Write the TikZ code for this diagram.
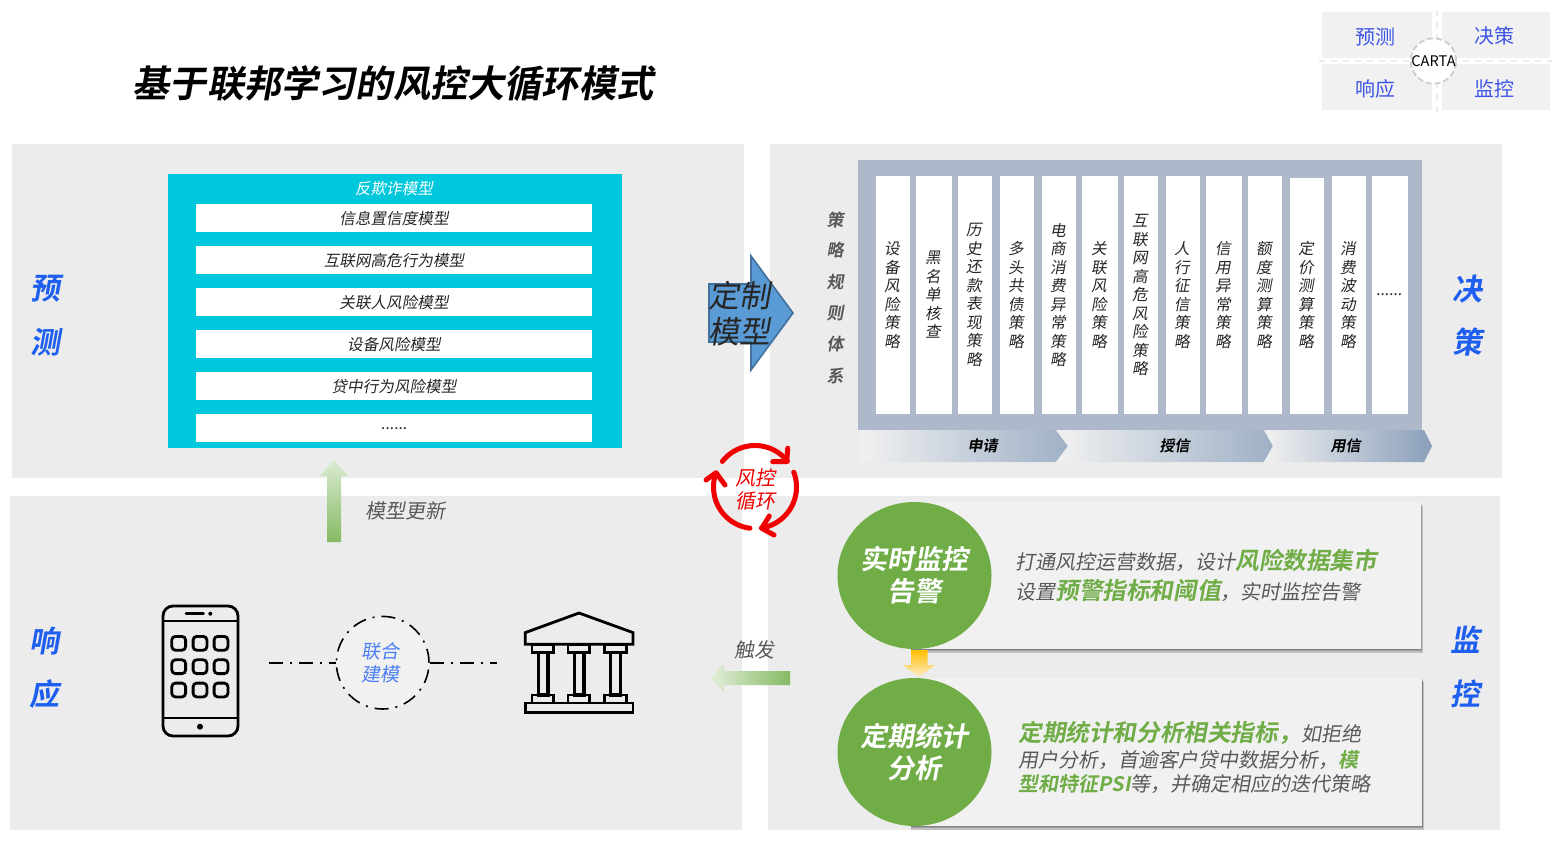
\documentclass[tikz,border=0pt]{standalone}
\usepackage{fontspec}
\setmainfont{Noto Sans CJK SC}
\newfontfamily\reg{Noto Sans CJK SC}
\newfontfamily\itf[FakeSlant=0.18]{Noto Sans CJK SC}
\newfontfamily\bif[FakeSlant=0.18]{Noto Sans CJK SC Bold}
\usetikzlibrary{arrows.meta,shapes.geometric}
\definecolor{panelbg}{HTML}{ECECEC}
\definecolor{cardbg}{HTML}{F1F1F1}
\definecolor{cyanbox}{HTML}{00C8DC}
\definecolor{steel}{HTML}{ADB9CA}
\definecolor{chevend}{HTML}{9FB0C6}
\definecolor{chevlast}{HTML}{8A9FBA}
\definecolor{mainblue}{HTML}{1F5FF0}
\definecolor{softblue}{HTML}{3F55E8}
\definecolor{leafgreen}{HTML}{70AD47}
\definecolor{greytext}{HTML}{595959}
\definecolor{loopred}{HTML}{F00000}
\definecolor{bigarrow}{HTML}{5B9BD5}
\definecolor{bigedge}{HTML}{41719C}
\definecolor{ambertop}{HTML}{FFC000}
\definecolor{amberlow}{HTML}{FBEBC8}
\tikzset{
  x=0.5pt,y=-0.5pt,
  panel/.style={fill=panelbg,draw=none},
  sidelabel/.style={font=\bif\fontsize{15}{15}\selectfont,text=mainblue,inner sep=0pt},
  cartacell/.style={font=\reg\fontsize{10}{10}\selectfont,text=softblue,inner sep=0pt},
  rowtxt/.style={font=\itf\fontsize{7.8}{8}\selectfont,text=black!85,inner sep=0pt},
  coltxt/.style={font=\itf\fontsize{7.8}{9.25}\selectfont,text=black!85,inner sep=0pt,align=center},
  chevtxt/.style={font=\bif\fontsize{7.5}{7.5}\selectfont,text=black,inner sep=0pt},
  systxt/.style={font=\bif\fontsize{8.5}{8.5}\selectfont,text=greytext,inner sep=0pt},
  notetxt/.style={font=\itf\fontsize{10}{10}\selectfont,text=greytext,inner sep=0pt},
  circtxt/.style={font=\bif\fontsize{13.5}{16}\selectfont,text=white,inner sep=0pt,align=center},
  cardline/.style={font=\itf\fontsize{10}{10}\selectfont,text=greytext,inner sep=0pt,anchor=west},
  icon/.style={line width=1.4pt,draw=black,line join=miter},
  looparc/.style={draw=loopred,line width=2.5pt,line cap=round,line join=round},
  dashdot/.style={draw=black,line width=0.8pt,dash pattern=on 7pt off 3.5pt on 1pt off 3.5pt},
  softshadow/.style={fill=black,opacity=0.18},
}
\newcommand{\gb}[1]{{\bif\fontsize{11.8}{11.8}\selectfont\color{leafgreen}#1}}
\newcommand{\gs}[1]{{\bif\fontsize{10}{10}\selectfont\color{leafgreen}#1}}
\newcommand{\sixdots}{{.}{.}{.}{.}{.}{.}}
\begin{document}
\begin{tikzpicture}
\useasboundingbox (0,0) rectangle (1558,852);
\fill[white] (0,0) rectangle (1558,852);
% title
\node[font=\bif\fontsize{18.6}{18.6}\selectfont,inner sep=0pt] (title) at (393,83) {基于联邦学习的风控大循环模式};
% CARTA
\fill[cardbg] (1322,12) rectangle (1432,58);
\fill[cardbg] (1442,12) rectangle (1550,58);
\fill[cardbg] (1322,64) rectangle (1432,110);
\fill[cardbg] (1442,64) rectangle (1550,110);
\draw[panelbg,line width=1pt,dashed] (1437,10) -- (1437,113);
\draw[panelbg,line width=1pt,dashed] (1319,61) -- (1552,61);
\node[cartacell] (cp) at (1375,36.5) {预测};
\node[cartacell] (cd) at (1494,36) {决策};
\node[cartacell] (cr) at (1375,88.5) {响应};
\node[cartacell] (cm) at (1494,88.5) {监控};
\node[circle,draw=black!20,fill=white,dash pattern=on 3pt off 1.5pt,line width=0.9pt,minimum size=22pt,inner sep=0pt,font=\reg\fontsize{7.3}{7.3}\selectfont] (carta) at (1433.5,61) {CARTA};
% panels
\fill[panel] (12,144) rectangle (744,478);
\fill[panel] (770,144) rectangle (1502,478);
\fill[panel] (10,496) rectangle (742,830);
\fill[panel] (768,496) rectangle (1500,830);
% side labels
\node[sidelabel] (l1) at (46,289) {预};
\node[sidelabel] (l2) at (46,342) {测};
\node[sidelabel] (l3) at (1467,289) {决};
\node[sidelabel] (l4) at (1467,342) {策};
\node[sidelabel] (l5) at (44,641) {响};
\node[sidelabel] (l6) at (44,694) {应};
\node[sidelabel] (l7) at (1465,640) {监};
\node[sidelabel] (l8) at (1465,694) {控};
% models
\fill[cyanbox] (168,174) rectangle (622,448);
\node[font=\itf\fontsize{7.8}{8}\selectfont,text=white,inner sep=0pt] (mt) at (394,189) {反欺诈模型};
\foreach \i/\yy/\t in {1/204/信息置信度模型,2/246/互联网高危行为模型,3/288/关联人风险模型,4/330/设备风险模型,5/372/贷中行为风险模型,6/414/\sixdots}{
  \fill[white] (196,\yy) rectangle (592,\yy+28);
  \node[rowtxt] (row\i) at (394,\yy+15) {\t};
}
% up arrow
\shade[bottom color=leafgreen!85,top color=leafgreen!25]
  (327,542) -- (327,476) -- (320,476) -- (334,460) -- (348,476) -- (341,476) -- (341,542) -- cycle;
\node[notetxt] (upd) at (405.5,510.5) {模型更新};
% strategies
\fill[steel] (858,160) rectangle (1422,430);
\foreach \i/\a/\b/\tp/\t in {
 1/876/910/176/设\\备\\风\\险\\策\\略,
 2/916/952/176/黑\\名\\单\\核\\查,
 3/958/992/176/历\\史\\还\\款\\表\\现\\策\\略,
 4/1000/1034/176/多\\头\\共\\债\\策\\略,
 5/1042/1076/176/电\\商\\消\\费\\异\\常\\策\\略,
 6/1082/1118/176/关\\联\\风\\险\\策\\略,
 7/1124/1158/176/互\\联\\网\\高\\危\\风\\险\\策\\略,
 8/1166/1200/176/人\\行\\征\\信\\策\\略,
 9/1206/1242/176/信\\用\\异\\常\\策\\略,
 10/1248/1282/176/额\\度\\测\\算\\策\\略,
 11/1290/1324/178/定\\价\\测\\算\\策\\略,
 12/1332/1366/176/消\\费\\波\\动\\策\\略,
 13/1372/1408/176/\sixdots}{
  \fill[white] (\a,\tp) rectangle (\b,414);
  \node[coltxt] (col\i) at ({(\a+\b)/2-1},295) {\t};
}
\foreach \i/\yy/\t in {1/219/策,2/250/略,3/282/规,4/313/则,5/344/体,6/375/系}{
  \node[systxt] (sys\i) at (835,\yy+0.5) {\t};
}
% chevrons
\shade[left color=cardbg,right color=chevend] (860,430) -- (1056,430) -- (1068,446) -- (1056,462) -- (860,462) -- cycle;
\shade[left color=cardbg,right color=chevend] (1056,430) -- (1264,430) -- (1273,446) -- (1264,462) -- (1056,462) -- (1068,446) -- cycle;
\shade[left color=cardbg,right color=chevlast] (1264,430) -- (1424,430) -- (1432,446) -- (1424,462) -- (1264,462) -- (1273,446) -- cycle;
\node[chevtxt] (ch1) at (982.5,445.5) {申请};
\node[chevtxt] (ch2) at (1174.5,445.5) {授信};
\node[chevtxt] (ch3) at (1345.5,445.5) {用信};
% big arrow
\filldraw[fill=bigarrow,draw=bigedge,line width=0.8pt]
 (709,284) -- (751,284) -- (751,256) -- (793,313) -- (751,370) -- (751,342) -- (709,342) -- cycle;
\node[font=\itf\fontsize{15.5}{18}\selectfont,text=black!85,inner sep=0pt,align=center] (custom) at (739,314) {定制\\模型};
% loop
\def\cx{755}\def\cy{487}\def\rr{41.5}
\draw[looparc] plot[domain=-142:-38.6,samples=30] ({\cx+\rr*cos(\x)},{\cy+\rr*sin(\x)});
\draw[looparc] (787.7,448.3) -- (786.7,461.7) -- (772.7,461.7);
\draw[looparc] plot[domain=-21:81,samples=30] ({\cx+\rr*cos(\x)},{\cy+\rr*sin(\x)});
\draw[looparc] (769.3,516) -- (761.7,528.3) -- (774,535);
\draw[looparc] plot[domain=97:199,samples=30] ({\cx+\rr*cos(\x)},{\cy+\rr*sin(\x)});
\draw[looparc] (706,480) -- (716,472.7) -- (725,485);
\node[font=\itf\fontsize{10}{11.5}\selectfont,text=loopred,inner sep=0pt,align=center] (looptxt) at (755.5,489) {风控\\循环};
% cards
\foreach \d in {1,2,3.5}{
  \fill[softshadow] (911,502+\d) rectangle (1420.5+\d*0.7,649+\d);
  \fill[softshadow] (911,678+\d) rectangle (1422+\d*0.7,826+\d);
}
\fill[cardbg] (908,502) rectangle (1420.5,649);
\fill[cardbg] (908,678) rectangle (1422,826);
\shade[top color=ambertop,bottom color=amberlow]
 (911,650) -- (927.5,650) -- (927.5,665) -- (935,665) -- (919,677) -- (903,665) -- (911,665) -- cycle;
\node[ellipse,minimum width=77pt,minimum height=73.5pt,fill=leafgreen,inner sep=0pt,circtxt] (rt) at (914.5,575.5) {实时监控\\告警};
\node[ellipse,minimum width=77pt,minimum height=74pt,fill=leafgreen,inner sep=0pt,circtxt] (pd) at (914.5,752) {定期统计\\分析};
\node[cardline] (t1) at (1015,560) {打通风控运营数据，设计\gb{风险数据集市}};
\node[cardline] (t2) at (1015,590) {设置\gb{预警指标和阈值}，实时监控告警};
\node[cardline] (t3) at (1018,733) {\gb{定期统计和分析相关指标，}如拒绝};
\node[cardline] (t4) at (1018,760) {用户分析，首逾客户贷中数据分析，\gs{模}};
\node[cardline] (t5) at (1018,784) {\gs{型和特征PSI}等，并确定相应的迭代策略};
% left green arrow
\shade[right color=leafgreen!85,left color=leafgreen!20]
 (790,671) -- (724,671) -- (724,664) -- (710,678) -- (724,692) -- (724,685) -- (790,685) -- cycle;
\node[notetxt] (trig) at (754.5,650) {触发};
% phone
\node[minimum width=37.5pt,minimum height=65pt,inner sep=0pt,outer sep=0pt] (phone) at (200.5,671) {};
\draw[icon,rounded corners=5pt] (phone.north west) rectangle (phone.south east);
\draw[icon] (phone.west |- 0,621) -- (phone.east |- 0,621);
\draw[icon] (phone.west |- 0,718) -- (phone.east |- 0,718);
\draw[icon,line cap=round] (186,613.7) -- (203.5,613.7);
\fill (210.3,613.7) circle[radius=2];
\fill (200,726.7) circle[radius=3];
\foreach \px in {178.7,200,221}{\foreach \py in {643.3,666.7,690}{
  \draw[icon,rounded corners=1.8pt] (\px-6.9,\py-6.9) rectangle (\px+6.9,\py+6.9);
}}
% federated circle
\node[circle,dashdot,fill=cardbg,minimum size=46.3pt,inner sep=0pt] (fed) at (382.7,662.7) {};
\node[font=\itf\fontsize{9.5}{11.5}\selectfont,text=mainblue!80!white,inner sep=0pt,align=center] (fedt) at (380.5,663) {联合\\建模};
% bank
\node[minimum width=55pt,minimum height=51pt,inner sep=0pt] (bank) at (579,663) {};
\draw[icon] (525.3,632.6) -- (579,613) -- (633,632.6) -- (633,644.2) -- (525.3,644.2) -- cycle;
\foreach \q in {530.7,566.7,603}{
  \draw[icon] (\q+1.2,644.2) rectangle (\q+23.1,652.3);
  \draw[icon,line width=1.7pt] (\q+7.5,652.3) rectangle (\q+17.2,695);
  \draw[icon] (\q+1.2,695) rectangle (\q+23.1,703);
}
\draw[icon] (525.3,703) rectangle (633,712.8);
% connectors
\coordinate (dl) at (269,662.7);
\coordinate (dr) at (497,662.7);
\draw[dashdot] (dl) -- (fed.west);
\draw[dashdot] (fed.east) -- (dr);
\end{tikzpicture}
\end{document}
